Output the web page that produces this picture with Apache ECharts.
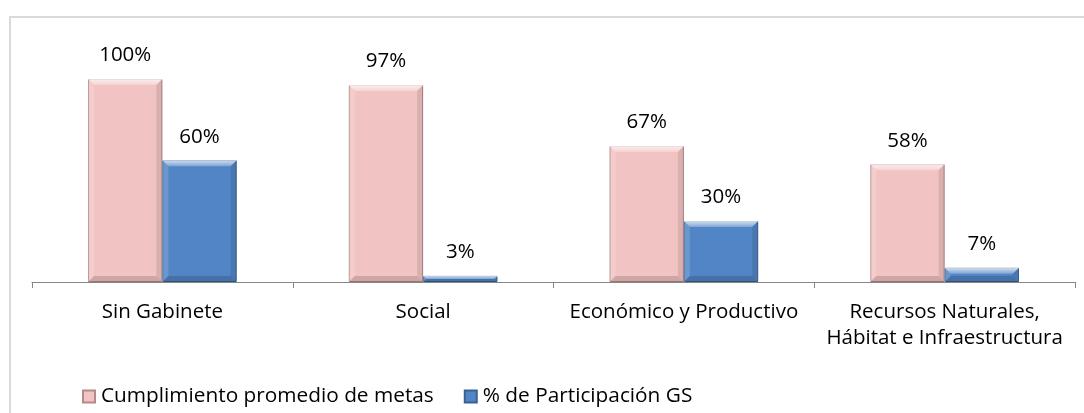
<!DOCTYPE html>
<html>
<head>
<meta charset="utf-8">
<script src="https://cdn.jsdelivr.net/npm/echarts@6/dist/echarts.min.js"></script>
<style>
  html, body { margin: 0; padding: 0; background: #fff; }
  #chart { width: 1084px; height: 413px; }
</style>
</head>
<body>
<div id="chart"></div>
<script>
// Categories (cabinets) and the two series, in percent
const categories = ['Sin Gabinete', 'Social', 'Económico y Productivo', 'Recursos Naturales,\nHábitat e Infraestructura'];
const cumplimiento = [100, 97, 67, 58];
const participacion = [60, 3, 30, 7];
const seriesNames = ['Cumplimiento promedio de metas', '% de Participación GS'];

const FONT = '"Open Sans", "Noto Sans", sans-serif';
const CAT_GAP = 0.43;   // share of each category band left empty
const BEVEL = 6;

const chart = echarts.init(document.getElementById('chart'), null, { renderer: 'canvas' });

// Bevel overlay: lighter top/left edges, darker right/bottom edges on each bar
function bevelItem(seriesIdx) {
  return function (params, api) {
    const idx = api.value(0);
    const val = api.value(1);
    const base = api.coord([idx, 0]);
    const top = api.coord([idx, val]);
    const band = api.size([1, 0])[0];
    const bw = band * (1 - CAT_GAP) / 2;
    const x0 = base[0] - bw + seriesIdx * bw;
    const x1 = x0 + bw;
    const y0 = top[1];
    const y1 = base[1];
    const b = Math.min(BEVEL, (y1 - y0) / 2, bw / 2);
    return {
      type: 'group',
      silent: true,
      children: [
        { type: 'polygon', shape: { points: [[x0, y0], [x1, y0], [x1 - b, y0 + b], [x0 + b, y0 + b]] },
          style: { fill: {
            type: 'linear', x: 0, y: 0, x2: 0, y2: 1,
            colorStops: [{ offset: 0, color: 'rgba(255,255,255,0.75)' }, { offset: 1, color: 'rgba(255,255,255,0.25)' }]
          } } },
        { type: 'polygon', shape: { points: [[x0, y0], [x0 + b, y0 + b], [x0 + b, y1 - b], [x0, y1]] },
          style: { fill: 'rgba(255,255,255,0.15)' } },
        { type: 'polygon', shape: { points: [[x1, y0], [x1, y1], [x1 - b, y1 - b], [x1 - b, y0 + b]] },
          style: { fill: 'rgba(0,0,0,0.10)' } },
        { type: 'polygon', shape: { points: [[x0, y1], [x1, y1], [x1 - b, y1 - b], [x0 + b, y1 - b]] },
          style: { fill: 'rgba(0,0,0,0.15)' } }
      ]
    };
  };
}

const option = {
  animation: false,
  backgroundColor: '#ffffff',
  graphic: [{
    type: 'rect', silent: true, z: -1,
    shape: { x: 10, y: 17, width: 1100, height: 500 },
    style: { fill: 'none', stroke: '#d9d9d9', lineWidth: 2 }
  }],
  grid: { left: 32, right: 9, top: 79, bottom: 131, containLabel: false },
  legend: {
    left: 82, top: 386, padding: 0,
    itemWidth: 12, itemHeight: 12, itemGap: 30,
    icon: 'rect',
    data: seriesNames,
    textStyle: { fontFamily: FONT, fontSize: 20.8, color: '#000', padding: [0, 0, 0, 1] }
  },
  xAxis: {
    type: 'category',
    data: categories,
    axisLine: { lineStyle: { color: '#868686', width: 1 } },
    axisTick: { show: true, length: 6, alignWithLabel: false, lineStyle: { color: '#868686' } },
    axisLabel: { interval: 0, margin: 17, color: '#000', fontFamily: FONT, fontSize: 20.5, lineHeight: 26 }
  },
  yAxis: {
    type: 'value', min: 0, max: 100, show: false,
    splitLine: { show: false }
  },
  series: [
    {
      name: seriesNames[0], type: 'bar', data: cumplimiento,
      barGap: '0%', barCategoryGap: (CAT_GAP * 100) + '%',
      itemStyle: { color: '#f2c3c3', borderColor: '#b48a8a', borderWidth: 1 },
      label: { show: true, position: 'top', distance: 13, formatter: '{c}%',
               color: '#000', fontFamily: FONT, fontSize: 20.5 }
    },
    {
      name: seriesNames[1], type: 'bar', data: participacion,
      itemStyle: { color: '#5285c5', borderColor: '#3a6194', borderWidth: 1 },
      label: { show: true, position: 'top', distance: 13, formatter: '{c}%',
               color: '#000', fontFamily: FONT, fontSize: 20.5 }
    },
    {
      type: 'custom', renderItem: bevelItem(0), z: 5, silent: true,
      data: cumplimiento.map((v, i) => [i, v]), encode: { x: 0, y: 1 }
    },
    {
      type: 'custom', renderItem: bevelItem(1), z: 5, silent: true,
      data: participacion.map((v, i) => [i, v]), encode: { x: 0, y: 1 }
    }
  ]
};

chart.setOption(option);
</script>
</body>
</html>
